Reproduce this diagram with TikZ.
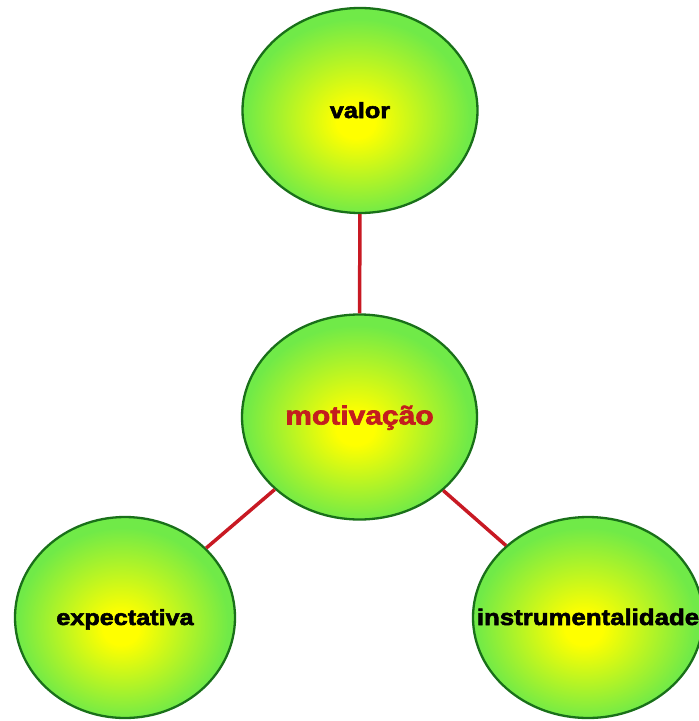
\documentclass[tikz,border=0pt]{standalone}
\usepackage{fontspec}
\setmainfont{Liberation Sans}
\newfontfamily\heavyfont[FakeBold=2.4]{Liberation Sans Bold}
\usetikzlibrary{shapes.geometric}

\definecolor{bubblegreen}{RGB}{112,234,72}
\definecolor{rimgreen}{RGB}{25,112,25}
\definecolor{linkred}{RGB}{200,25,35}
\definecolor{keyred}{RGB}{195,30,30}

% yellow core fading into light green, core a little below centre
\pgfdeclareradialshading{bubble}{\pgfpoint{-1bp}{-3bp}}{%
  color(0bp)=(yellow); color(4bp)=(yellow);
  color(13bp)=(yellow!55!bubblegreen);
  color(24bp)=(bubblegreen); color(50bp)=(bubblegreen)}

% wide heavy label text, kept out of the node size
\newcommand\conceptlabel[2]{\makebox[0pt]{\scalebox{1.2}[1.05]{\fontsize{#1}{#1}\heavyfont #2}}}

\tikzset{
  concept/.style={ellipse, shading=bubble, draw=rimgreen, line width=2.3pt,
    inner sep=0pt, text height=17pt, text depth=2pt},
  link/.style={draw=linkred, line width=3.5pt}
}

\begin{document}
\begin{tikzpicture}[x=1pt, y=-1pt]
  \useasboundingbox (0,0) rectangle (699,721);

  \node[concept, minimum width=235pt, minimum height=205pt] (valor)
    at (360,110.5) {\conceptlabel{21}{valor}};
  \node[concept, minimum width=235pt, minimum height=205pt] (motiv)
    at (359.5,417) {\color{keyred}\conceptlabel{25}{motivação}};
  \node[concept, minimum width=220pt, minimum height=201pt] (expect)
    at (125,617.5) {\conceptlabel{21}{expectativa}};
  \node[concept, minimum width=230pt, minimum height=201pt] (instr)
    at (588,617.5) {\conceptlabel{21.5}{instrumentalidade}};

  \draw[link] (valor) -- (motiv);
  \draw[link] (motiv) -- (expect);
  \draw[link] (motiv) -- (instr);
\end{tikzpicture}
\end{document}
